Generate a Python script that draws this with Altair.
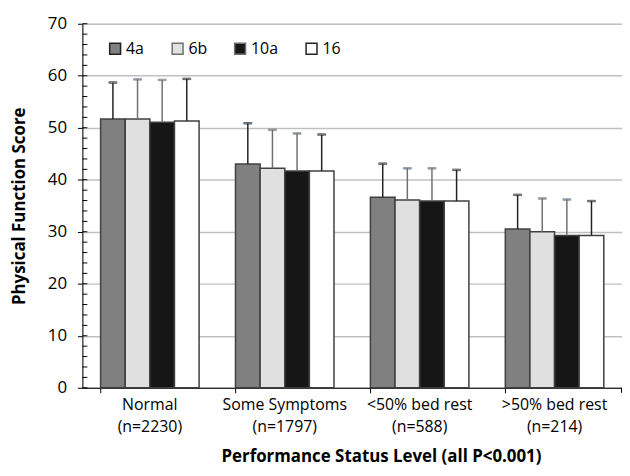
import altair as alt
import pandas as pd

categories = ["Normal|(n=2230)", "Some Symptoms|(n=1797)", "<50% bed rest|(n=588)", ">50% bed rest|(n=214)"]
series = ["4a", "6b", "10a", "16"]
means = [
    [51.7, 51.7, 51.05, 51.3],
    [43.05, 42.2, 41.7, 41.7],
    [36.65, 36.1, 35.9, 35.9],
    [30.55, 30.0, 29.3, 29.3],
]
tops = [
    [58.7, 59.3, 59.2, 59.4],
    [50.86, 49.6, 48.9, 48.7],
    [43.1, 42.2, 42.2, 41.9],
    [37.1, 36.4, 36.2, 35.9],
]
fills = ["#808080", "#e0e0e0", "#161616", "#ffffff"]
err_colors = ["#222222", "#707070", "#707070", "#222222"]
y_ticks = list(range(0, 72, 2))

rows = []
for i, c in enumerate(categories):
    for j, s in enumerate(series):
        rows.append({"cat": c, "series": s, "value": means[i][j], "top": tops[i][j]})
df = pd.DataFrame(rows)
ticks_df = pd.DataFrame({"t": y_ticks})

W, H = 544, 367
FONT = "Open Sans"

xenc = alt.X("cat:N", sort=categories,
             scale=alt.Scale(paddingInner=0.27, paddingOuter=0.135),
             axis=alt.Axis(title="Performance Status Level (all P<0.001)",
                           labelExpr="split(datum.label, '|')",
                           labelAngle=0, bandPosition=0, tickSize=5, tickColor="#000",
                           domainColor="#000", labelFontSize=16, labelLineHeight=22,
                           labelPadding=4, labelColor="#000", labelFont=FONT,
                           titleFontSize=17, titleFont=FONT, titleFontWeight="bold",
                           titleBaseline="alphabetic", titleX=301, titleY=74,
                           titleColor="#000", grid=False))
xoff = alt.XOffset("series:N", sort=series, scale=alt.Scale(paddingInner=0, paddingOuter=0))
yscale = alt.Scale(domain=[0, 70], nice=False)

bars = alt.Chart(df).mark_bar(stroke="#404040", strokeWidth=1.5).encode(
    x=xenc,
    xOffset=xoff,
    y=alt.Y("value:Q", scale=yscale,
            axis=alt.Axis(title="Physical Function Score", values=list(range(0, 80, 10)),
                          tickSize=5, tickColor="#000", domainColor="#000",
                          gridColor="#c0c0c0", gridWidth=1.5,
                          labelFontSize=17, labelFont=FONT, labelColor="#000", labelPadding=11,
                          titleFontSize=17, titleFont=FONT, titleFontWeight="bold",
                          titleColor="#000", titleBaseline="alphabetic",
                          titleX=-58, titleY=H / 2, titleAngle=270)),
    fill=alt.Fill("series:N", sort=series,
                  scale=alt.Scale(domain=series, range=fills),
                  legend=alt.Legend(title=None, orient="none", direction="horizontal",
                                    legendX=25, legendY=17, padding=0, symbolType="square",
                                    symbolSize=121, symbolStrokeColor="#404040",
                                    symbolStrokeWidth=1.5, labelFontSize=16, labelFont=FONT,
                                    labelColor="#000", labelOffset=3, columnPadding=24,
                                    symbolOpacity=1)),
)

err = alt.Chart(df).mark_rule(strokeWidth=1.5).encode(
    x=alt.X("cat:N", sort=categories),
    xOffset=alt.XOffset("series:N", sort=series),
    y=alt.Y("value:Q", scale=yscale),
    y2="top:Q",
    stroke=alt.Stroke("series:N", sort=series,
                      scale=alt.Scale(domain=series, range=err_colors), legend=None),
)

caps = alt.Chart(df).mark_tick(orient="horizontal", size=8, thickness=1.5).encode(
    x=alt.X("cat:N", sort=categories),
    xOffset=alt.XOffset("series:N", sort=series),
    y=alt.Y("top:Q", scale=yscale),
    stroke=alt.Stroke("series:N", sort=series,
                      scale=alt.Scale(domain=series, range=err_colors), legend=None),
)

minor = alt.Chart(ticks_df).mark_rule(color="#000", strokeWidth=1).encode(
    y=alt.Y("t:Q", scale=yscale),
    x=alt.value(0),
    x2=alt.value(5),
)

right_tick = alt.Chart(ticks_df.head(1)).mark_rule(color="#000", strokeWidth=1).encode(
    x=alt.value(W - 0.5),
    y=alt.value(H),
    y2=alt.value(H + 5),
)

chart = alt.layer(bars, err, caps, minor, right_tick).properties(
    width=W, height=H,
    autosize=alt.AutoSizeParams(type="none"),
    padding={"left": 75, "top": 14, "right": 0, "bottom": 79},
).configure_view(stroke=None).configure(background="white")

chart.save("out.html", embed_options={"renderer": "svg", "actions": False})
